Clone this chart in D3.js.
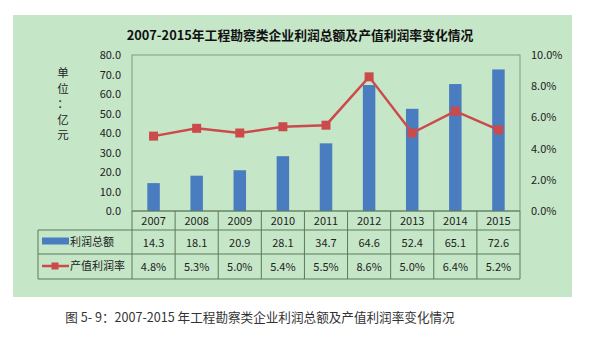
<!DOCTYPE html>
<html><head><meta charset="utf-8">
<script src="https://cdn.jsdelivr.net/npm/d3@7"></script>
<style>body{margin:0;background:#fff;}svg{display:block;}</style>
</head><body>
<script>
const years = ["2007","2008","2009","2010","2011","2012","2013","2014","2015"];
const profit = [14.3,18.1,20.9,28.1,34.7,64.6,52.4,65.1,72.6];
const rate = [4.8,5.3,5.0,5.4,5.5,8.6,5.0,6.4,5.2];
const leftTicks = [0,10,20,30,40,50,60,70,80];
const rightTicks = [0,2,4,6,8,10];
const seriesNames = ["利润总额","产值利润率"];
const title = "2007-2015年工程勘察类企业利润总额及产值利润率变化情况";
const caption = "图 5- 9：2007-2015 年工程勘察类企业利润总额及产值利润率变化情况";
const unitLabel = ["单","位","：","亿","元"];

const W=589,H=353;
const svg=d3.select("body").append("svg").attr("width",W).attr("height",H);
const font="'Noto Sans CJK SC','Microsoft YaHei',sans-serif";
const green="#c6e6c8", border="#5a7a5a";
svg.append("rect").attr("x",13).attr("y",15).attr("width",559).attr("height",282).attr("fill",green);

const pl=132,pr=520,pt=55,pb=211;
const x=d3.scaleBand().domain(years).range([pl,pr]);
const yL=d3.scaleLinear().domain([0,80]).range([pb,pt]);
const yR=d3.scaleLinear().domain([0,10]).range([pb,pt]);

svg.append("text").attr("x",300).attr("y",40).attr("text-anchor","middle")
  .attr("font-family",font).attr("font-weight","bold").attr("font-size",12.8).attr("fill","#111").text(title);

// plot border
svg.append("rect").attr("x",pl).attr("y",pt).attr("width",pr-pl).attr("height",pb-pt)
  .attr("fill","none").attr("stroke","#7f9f7f").attr("stroke-width",1);

// left axis labels
svg.append("g").selectAll("text").data(leftTicks).join("text")
  .attr("x",121).attr("y",d=>yL(d)+4).attr("text-anchor","end")
  .attr("font-family",font).attr("font-size",11).attr("fill","#222").text(d=>d.toFixed(1));
// right axis labels
svg.append("g").selectAll("text").data(rightTicks).join("text")
  .attr("x",531).attr("y",d=>yR(d)+4).attr("text-anchor","start")
  .attr("font-family",font).attr("font-size",11).attr("fill","#222").text(d=>d.toFixed(1)+"%");
// unit label
svg.append("g").selectAll("text").data(unitLabel).join("text")
  .attr("x",63).attr("y",(d,i)=>i===2?108:77+i*15.5).attr("text-anchor","middle")
  .attr("font-family",font).attr("font-size",11.5).attr("fill","#222").text(d=>d);

// bars
const bw=12.5;
svg.append("g").selectAll("rect").data(profit).join("rect")
  .attr("x",(d,i)=>x(years[i])+x.bandwidth()/2-bw/2).attr("width",bw)
  .attr("y",d=>yL(d)).attr("height",d=>pb-yL(d)).attr("fill","#4a7dbf");

// line
const line=d3.line().x((d,i)=>x(years[i])+x.bandwidth()/2).y(d=>yR(d));
svg.append("path").datum(rate).attr("d",line).attr("fill","none").attr("stroke","#cc4a4a").attr("stroke-width",2.5);
svg.append("g").selectAll("rect").data(rate).join("rect")
  .attr("x",(d,i)=>x(years[i])+x.bandwidth()/2-4.5).attr("y",d=>yR(d)-4.5)
  .attr("width",9).attr("height",9).attr("fill","#cc4a4a");

// table
const tl=38;
const tg=svg.append("g");
tg.append("line").attr("x1",pl).attr("x2",pr).attr("y1",pb).attr("y2",pb).attr("stroke",border);
[230,254,279].forEach(yy=>tg.append("line").attr("x1",tl).attr("x2",pr).attr("y1",yy).attr("y2",yy).attr("stroke",border));
tg.append("line").attr("x1",tl).attr("x2",tl).attr("y1",230).attr("y2",279).attr("stroke",border);
years.forEach(yr=>tg.append("line").attr("x1",x(yr)).attr("x2",x(yr)).attr("y1",pb).attr("y2",279).attr("stroke",border));
tg.append("line").attr("x1",pr).attr("x2",pr).attr("y1",pb).attr("y2",279).attr("stroke",border);

const cx=(i)=>x(years[i])+x.bandwidth()/2;
tg.selectAll(".yr").data(years).join("text").attr("x",(d,i)=>cx(i)).attr("y",225).attr("text-anchor","middle")
  .attr("font-family",font).attr("font-size",11).attr("fill","#222").text(d=>d);
tg.selectAll(".p").data(profit).join("text").attr("x",(d,i)=>cx(i)).attr("y",247).attr("text-anchor","middle")
  .attr("font-family",font).attr("font-size",11).attr("fill","#222").text(d=>d.toFixed(1));
tg.selectAll(".r").data(rate).join("text").attr("x",(d,i)=>cx(i)).attr("y",271).attr("text-anchor","middle")
  .attr("font-family",font).attr("font-size",11).attr("fill","#222").text(d=>d.toFixed(1)+"%");

// legend
tg.append("rect").attr("x",42).attr("y",237.5).attr("width",27).attr("height",7).attr("fill","#4a7dbf");
tg.append("text").attr("x",70).attr("y",246).attr("font-family",font).attr("font-size",11).attr("fill","#222").text(seriesNames[0]);
tg.append("line").attr("x1",42).attr("x2",69).attr("y1",266).attr("y2",266).attr("stroke","#cc4a4a").attr("stroke-width",2.5);
tg.append("rect").attr("x",51.5).attr("y",262.5).attr("width",7).attr("height",7).attr("fill","#cc4a4a");
tg.append("text").attr("x",70).attr("y",270).attr("font-family",font).attr("font-size",11).attr("fill","#222").text(seriesNames[1]);

// caption
svg.append("text").attr("x",260).attr("y",322).attr("text-anchor","middle")
  .attr("font-family",font).attr("font-size",12.6).attr("fill","#333").text(caption);
</script>
</body></html>
